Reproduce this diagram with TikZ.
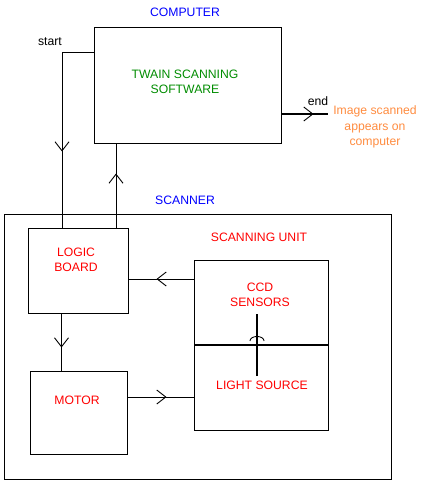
\documentclass[tikz,border=0pt]{standalone}
\usepackage{fontspec}
\setmainfont{Liberation Sans}
\definecolor{comp_c}{rgb}{0, 0, 1}
\definecolor{soft_c}{rgb}{0, 0.55, 0}
\definecolor{unit_c}{rgb}{1, 0, 0}
\definecolor{out_c}{rgb}{1, 0.55, 0.25}
\usetikzlibrary{arrows.meta,
                decorations.markings,
                positioning}

\begin{document}
\begin{tikzpicture}[
			x=1pt, y=-1pt,
			box/.style = {draw, line width=1pt, inner sep=0pt},
			txt/.style = {font=\fontsize{12.2}{15.5}\selectfont, align=center},
			flow/.style = {postaction={decorate},
				decoration={markings, mark=at position #1 with {\arrow[line width=0.9pt]{Straight Barb[length=9pt,width=14pt]}}}},
			rise/.style = {postaction={decorate},
				decoration={markings, mark=at position #1 with {\arrow[line width=0.9pt]{Arc Barb[length=5pt,width=15pt]}}}},
			line width=0.9pt,
			]
			\useasboundingbox (0,0) rectangle (421,484);
			% boxes
			\node[box, minimum width=187pt, minimum height=115pt] (comp) at (187.5,85.5) {};
			\node[box, minimum width=387pt, minimum height=265pt] (scan) at (197.5,346.5) {};
			\node[box, minimum width=100pt, minimum height=85pt] (logic) at (78.5,270.5) {};
			\node[box, minimum width=97pt, minimum height=83pt] (motor) at (78.5,412.5) {};
			\node[box, minimum width=134pt, minimum height=170pt] (unit) at (261.5,345) {};
			% notes
			\node[txt, text=comp_c] (compt) at (185,12) {COMPUTER};
			\node[txt, text=soft_c] (soft) at (185,82) {TWAIN SCANNING\\SOFTWARE};
			\node[txt] (start) at (50,42) {start};
			\node[txt] (endt) at (318,101) {end};
			\node[txt, text=out_c] (out) at (375,127) {Image scanned\\appears on\\computer};
			\node[txt, text=comp_c] (scant) at (185,200) {SCANNER};
			\node[txt, text=unit_c] (logict) at (76,260) {LOGIC\\BOARD};
			\node[txt, text=unit_c] (motort) at (77,400) {MOTOR};
			\node[txt, text=unit_c] (unitt) at (259,237) {SCANNING UNIT};
			\node[txt, text=unit_c] (ccd) at (260,295) {CCD\\SENSORS};
			\node[txt, text=unit_c] (light) at (262,385) {LIGHT SOURCE};
			% corners
			\coordinate (st) at (62,52);
			\coordinate (up) at (116,0);
			\coordinate (ed) at (328,114);
			\coordinate (lm) at (61.5,0);
			\coordinate (cl) at (0,279);
			\coordinate (ml) at (0,397);
			\coordinate (mid) at (0,345);
			\coordinate (lamp) at (257,376);
			\coordinate (ray) at (257,314);
			% edges
			\draw[flow=131pt] (comp.west |- st) -- (st) -- (logic.north -| st);
			\draw[flow=54pt] (logic.north -| up) -- (comp.south -| up);
			\draw[flow=32pt, line width=2pt] (comp.east |- ed) -- (ed);
			\draw[flow=34pt] (logic.south -| lm) -- (motor.north -| lm);
			\draw[flow=37.5pt] (unit.west |- cl) -- (logic.east |- cl);
			\draw[flow=39pt] (motor.east |- ml) -- (unit.west |- ml);
			\draw[line width=2pt] (unit.west |- mid) -- (unit.east |- mid);
			\draw[rise=40pt, line width=2pt] (lamp) -- (ray);
		\end{tikzpicture}
\end{document}
